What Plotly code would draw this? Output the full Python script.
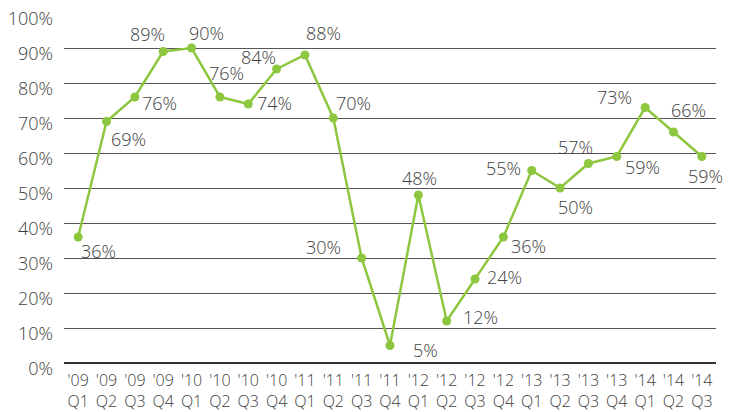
import plotly.graph_objects as go

# Quarterly share, 2009 Q1 – 2014 Q3
years = ["'09", "'09", "'09", "'09", "'10", "'10", "'10", "'10",
         "'11", "'11", "'11", "'11", "'12", "'12", "'12", "'12",
         "'13", "'13", "'13", "'13", "'14", "'14", "'14"]
quarters = ["Q1", "Q2", "Q3", "Q4", "Q1", "Q2", "Q3", "Q4",
            "Q1", "Q2", "Q3", "Q4", "Q1", "Q2", "Q3", "Q4",
            "Q1", "Q2", "Q3", "Q4", "Q1", "Q2", "Q3"]
values = [36, 69, 76, 89, 90, 76, 74, 84, 88, 70, 30, 5,
          48, 12, 24, 36, 55, 50, 57, 59, 73, 66, 59]
y_ticks = [0, 10, 20, 30, 40, 50, 60, 70, 80, 90, 100]

# Pixel offsets (dx, dy) of each value label from its point
label_offsets = [(20, 14), (22, 17), (25, 6), (-16, -18), (15, -15), (7, -24),
                 (26, -1), (-18, -12), (19, -22), (20, -15), (-38, -11), (35, 4),
                 (1, -17), (34, -4), (29, -2), (25, 9), (-28, -3), (15, 19),
                 (-13, -17), (26, 10), (-31, -11), (15, -22), (4, 19)]

GREEN = "#8dc63f"
TEXT = "#404040"
FONT = "Open Sans"
FS = 18
FW = 350

idx = list(range(len(values)))
tick_text = [f"{y}<br>{q}" for y, q in zip(years, quarters)]

fig = go.Figure()
fig.add_trace(go.Scatter(
    x=idx, y=values, mode="lines+markers",
    line=dict(color=GREEN, width=2.5),
    marker=dict(color=GREEN, size=9),
    cliponaxis=False, showlegend=False, hoverinfo="skip",
))

for i, v in enumerate(values):
    dx, dy = label_offsets[i]
    fig.add_annotation(x=i, y=v, xref="x", yref="y", text=f"{v}%",
                       showarrow=False, xshift=dx, yshift=-dy,
                       font=dict(family=FONT, size=FS, color=TEXT, weight=FW))

fig.update_layout(
    width=734, height=412,
    margin=dict(l=64, r=18, t=13, b=49),
    paper_bgcolor="white", plot_bgcolor="white",
    font=dict(family=FONT, size=FS, color=TEXT, weight=FW),
    xaxis=dict(range=[-0.5, len(values) - 0.5], tickmode="array",
               tickvals=idx, ticktext=tick_text, showgrid=False,
               zeroline=False, showline=False, ticks="", automargin=False,
               ticklabelstandoff=6,
               tickfont=dict(family=FONT, size=16, color=TEXT, weight=FW)),
    yaxis=dict(range=[0, 100], tickmode="array", tickvals=y_ticks,
               ticktext=[f"{t}%" for t in y_ticks],
               showgrid=True, gridcolor="#555555", gridwidth=1,
               zeroline=True, zerolinecolor="#333333", zerolinewidth=1.5,
               showline=False, ticks="", ticklabelstandoff=10,
               ticklabelshift=6, automargin=False,
               tickfont=dict(family=FONT, size=FS, color=TEXT, weight=FW)),
)

fig.write_html("out.html")
